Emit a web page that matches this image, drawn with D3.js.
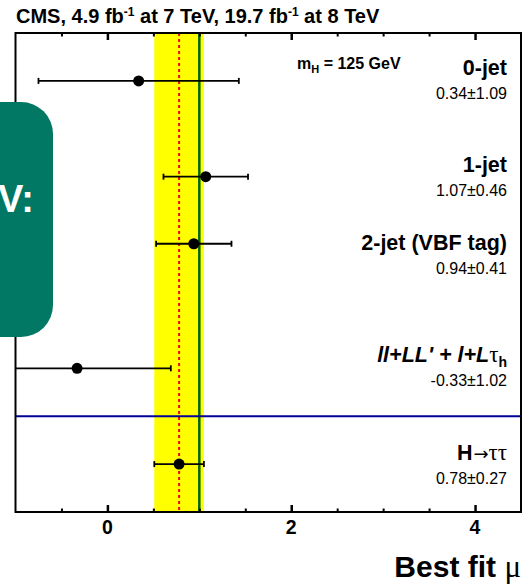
<!DOCTYPE html>
<html>
<head>
<meta charset="utf-8">
<script src="https://cdn.jsdelivr.net/npm/d3@7"></script>
<style>
  body { margin: 0; background: #fff; }
  text { font-family: "Liberation Sans", Arial, sans-serif; }
</style>
</head>
<body>
<svg id="chart" width="522" height="585"></svg>
<script>
// channels, best fit mu and its uncertainty, row position on the (hidden) y axis
var channels = ["0-jet", "1-jet", "2-jet (VBF tag)", "ll+LL' + l+L\u03c4h", "H\u2192\u03c4\u03c4"]
var mu       = [0.34, 1.07, 0.94, -0.33, 0.78]
var muErr    = [1.09, 0.46, 0.41, 1.02, 0.27]
var rowY     = [4.5, 3.5, 2.8, 1.5, 0.5]
var valueLabels = ["0.34\u00b11.09", "1.07\u00b10.46", "0.94\u00b10.41", "-0.33\u00b11.02", "0.78\u00b10.27"]
var xTicks = [0, 2, 4]
var combined = {mu: 0.78, err: 0.27}
var sm = 1.0
var separatorY = 1.0

var svg = d3.select("#chart")
var L = 15.5, R = 521, T = 33, B = 512

var x = d3.scaleLinear().domain([-1, 4.5]).range([L, R])
var y = d3.scaleLinear().domain([0, 5]).range([B, T])

// combined band
svg.append("rect")
  .attr("x", x(combined.mu - combined.err)).attr("y", T)
  .attr("width", x(combined.mu + combined.err) - x(combined.mu - combined.err))
  .attr("height", B - T).attr("fill", "#ffff00")

// SM line
svg.append("line").attr("x1", x(sm)).attr("x2", x(sm)).attr("y1", T).attr("y2", B)
  .attr("stroke", "#006600").attr("stroke-width", 2.5)

// combined best fit (dotted)
svg.append("line").attr("x1", x(combined.mu)).attr("x2", x(combined.mu)).attr("y1", T).attr("y2", B)
  .attr("stroke", "#ff0000").attr("stroke-width", 2).attr("stroke-dasharray", "3,3")

// separator above combined result
svg.append("line").attr("x1", L).attr("x2", R).attr("y1", y(separatorY)).attr("y2", y(separatorY))
  .attr("stroke", "#000099").attr("stroke-width", 2)

// error bars + points
var rows = svg.append("g").selectAll("g").data(channels).enter().append("g")
rows.each(function(d, i) {
  var g = d3.select(this)
  var lo = Math.max(x.domain()[0], mu[i] - muErr[i]), hi = Math.min(x.domain()[1], mu[i] + muErr[i])
  var yy = y(rowY[i])
  g.append("line").attr("x1", x(lo)).attr("x2", x(hi)).attr("y1", yy).attr("y2", yy)
    .attr("stroke", "#000").attr("stroke-width", 1.8)
  ;[lo, hi].forEach(function(v) {
    if (v > x.domain()[0] && v < x.domain()[1])
      g.append("line").attr("x1", x(v)).attr("x2", x(v)).attr("y1", yy - 3).attr("y2", yy + 3)
        .attr("stroke", "#000").attr("stroke-width", 1.8)
  })
  g.append("circle").attr("cx", x(mu[i])).attr("cy", yy).attr("r", 5.5).attr("fill", "#000")
})

// axes: ticks inward on bottom and top
var minor = d3.range(-0.5, 4.51, 0.5).filter(function(v) { return xTicks.indexOf(v) < 0 })
function tickAxis(axisFn, yPos, values, len, w) {
  var g = svg.append("g").attr("transform", "translate(0," + yPos + ")")
    .call(axisFn(x).tickValues(values).tickSize(-len).tickFormat(""))
  g.select(".domain").remove()
  g.selectAll(".tick line").attr("stroke-width", w)
}
tickAxis(d3.axisBottom, B, xTicks, 7, 2.5)
tickAxis(d3.axisBottom, B, minor, 3.5, 2)
tickAxis(d3.axisTop, T, xTicks, 7, 2.5)
tickAxis(d3.axisTop, T, minor, 3.5, 2)

svg.append("g").selectAll("text").data(xTicks).enter().append("text")
  .attr("x", function(d) { return x(d) }).attr("y", 534)
  .attr("text-anchor", "middle").attr("font-size", 19.5).attr("font-weight", "bold")
  .text(function(d) { return d })

// frame
svg.append("rect").attr("x", L).attr("y", T).attr("width", R - L).attr("height", B - T)
  .attr("fill", "none").attr("stroke", "#000").attr("stroke-width", 2)

// labels
var labX = 507
var labOff = [-6, -5, 6, -6, -4]
channels.forEach(function(c, i) {
  var yy = y(rowY[i]) + labOff[i]
  var t = svg.append("text").attr("x", labX).attr("y", yy).attr("text-anchor", "end")
    .attr("font-size", 21.5).attr("font-weight", "bold")
  if (i === 3) {
    t.append("tspan").attr("font-style", "italic").text("ll+LL' + l+L")
    t.append("tspan").attr("font-family", "Liberation Serif").attr("font-weight", "normal").attr("font-size", 23).text("\u03c4")
    t.append("tspan").attr("font-size", 14).attr("dy", 5).text("h")
  } else if (i === 4) {
    t.append("tspan").text("H")
    t.append("tspan").attr("font-weight", "normal").attr("font-family", "DejaVu Sans").attr("font-size", 18).attr("dx", 1).text("\u2192")
    t.append("tspan").attr("font-weight", "normal").attr("font-family", "Liberation Serif").attr("font-size", 23).text("\u03c4\u03c4")
  } else {
    t.text(c)
  }
  svg.append("text").attr("x", labX).attr("y", yy + 24).attr("text-anchor", "end")
    .attr("font-size", 16).text(valueLabels[i])
})

// mass label
var m = svg.append("text").attr("x", 297).attr("y", 69).attr("font-size", 16).attr("font-weight", "bold")
m.append("tspan").text("m")
m.append("tspan").attr("font-size", 11).attr("dy", 4).text("H")
m.append("tspan").attr("dy", -4).text(" = 125 GeV")

// title
var ti = svg.append("text").attr("x", 16).attr("y", 23).attr("font-size", 20).attr("font-weight", "bold")
ti.append("tspan").text("CMS, 4.9 fb")
ti.append("tspan").attr("font-size", 12).attr("dy", -7).text("-1")
ti.append("tspan").attr("dy", 7).text(" at 7 TeV, 19.7 fb")
ti.append("tspan").attr("font-size", 12).attr("dy", -7).text("-1")
ti.append("tspan").attr("dy", 7).text(" at 8 TeV")

// x axis title
var xt = svg.append("text").attr("x", 521).attr("y", 577).attr("text-anchor", "end")
  .attr("font-size", 30).attr("font-weight", "bold")
xt.append("tspan").text("Best fit ")
xt.append("tspan").attr("font-family", "Liberation Serif").attr("font-weight", "normal").attr("font-size", 31).text("\u03bc")

// overlay box at the left edge
svg.append("rect").attr("x", -40).attr("y", 102).attr("width", 93).attr("height", 235)
  .attr("rx", 32).attr("fill", "#007864")
svg.append("text").attr("x", 34).attr("y", 212).attr("text-anchor", "end")
  .attr("font-size", 38).attr("font-weight", "bold").attr("fill", "#fff").text("V:")
</script>
</body>
</html>
